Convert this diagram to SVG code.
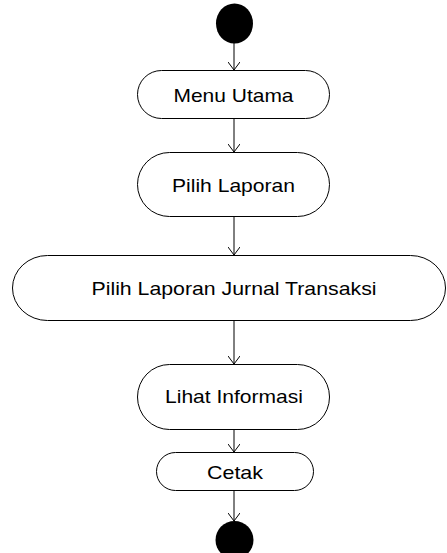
<svg xmlns="http://www.w3.org/2000/svg" width="447" height="553" viewBox="0 0 447 553">
<defs>
<marker id="arr" markerWidth="16" markerHeight="12" refX="8" refY="6" orient="auto" markerUnits="userSpaceOnUse">
<path d="M0,0 L8,6 L0,12" fill="none" stroke="#000" stroke-width="1"/>
</marker>
<style>
.node rect{fill:#fff;stroke:#000;stroke-width:1}
.node text{font-family:"Liberation Sans",Arial,sans-serif;font-size:18.5px;fill:#000;text-anchor:middle}
.conn line{stroke:#000;stroke-width:1;marker-end:url(#arr)}
</style>
</defs>
<rect width="447" height="553" fill="#fff"/>
<g id="connectors" class="conn">
<line x1="234" y1="43" x2="234" y2="70"/>
<line x1="234" y1="119" x2="234" y2="152"/>
<line x1="234" y1="217" x2="234" y2="255"/>
<line x1="234" y1="321" x2="234" y2="364"/>
<line x1="234" y1="430" x2="234" y2="452"/>
<line x1="234" y1="491" x2="234" y2="521"/>
</g>
<g id="start"><ellipse cx="234.5" cy="23.5" rx="18.5" ry="20" fill="#000"/></g>
<g id="menu-utama" class="node">
<rect x="137.5" y="70.5" width="192" height="48" rx="24" ry="24"/>
<text x="233.5" y="102" textLength="120" lengthAdjust="spacingAndGlyphs">Menu Utama</text>
</g>
<g id="pilih-laporan" class="node">
<rect x="137.5" y="152.5" width="192" height="64" rx="32" ry="32"/>
<text x="233.5" y="192" textLength="123" lengthAdjust="spacingAndGlyphs">Pilih Laporan</text>
</g>
<g id="pilih-laporan-jurnal" class="node">
<rect x="12.5" y="255.5" width="433" height="65" rx="35" ry="32.5"/>
<text x="234" y="295" textLength="285" lengthAdjust="spacingAndGlyphs">Pilih Laporan Jurnal Transaksi</text>
</g>
<g id="lihat-informasi" class="node">
<rect x="137.5" y="364.5" width="192" height="65" rx="32" ry="32.5"/>
<text x="234" y="403" textLength="138" lengthAdjust="spacingAndGlyphs">Lihat Informasi</text>
</g>
<g id="cetak" class="node">
<rect x="156.5" y="452.5" width="157" height="38" rx="19" ry="19"/>
<text x="235" y="479" textLength="56" lengthAdjust="spacingAndGlyphs">Cetak</text>
</g>
<g id="end"><ellipse cx="234.5" cy="540" rx="19" ry="19" fill="#000"/></g>
</svg>
